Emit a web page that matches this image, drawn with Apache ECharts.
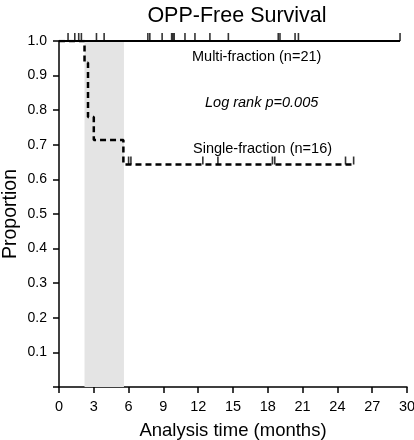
<!DOCTYPE html>
<html>
<head>
<meta charset="utf-8">
<script src="https://cdn.jsdelivr.net/npm/echarts@6.0.0/dist/echarts.min.js"></script>
<style>
html, body { margin: 0; padding: 0; background: #fff; }
#main { width: 414px; height: 440px; }
</style>
</head>
<body>
<div id="main"></div>
<script>
// Single-fraction KM steps (time in months, survival proportion)
const sfTimes = [0, 2.2, 2.5, 3.0, 5.55, 25.5];
const sfSurv = [1, 0.9375, 0.78, 0.714, 0.643, 0.643];
// censored times
const sfCensor = [6.0, 6.2, 12.4, 13.7, 18.4, 18.6, 24.7, 25.4];
const mfCensor = [0.78, 1.36, 1.7, 1.93, 3.23, 3.89, 7.66, 7.83, 8.89, 9.71, 9.82, 9.93,
  10.86, 11.72, 13.01, 14.6, 18.9, 19.05, 20.35, 20.64, 29.4];
const mfEnd = 29.4;
const shadeBand = [2.2, 5.6];
const xTicks = [0, 30, 3];

// survival value at a censor time for the single-fraction group
function sfAt(t) {
  let s = sfSurv[0];
  sfTimes.forEach((x, i) => { if (x <= t) s = sfSurv[i]; });
  return s;
}

const font = 'Liberation Sans, Arial, sans-serif';
const tick = { symbol: 'rect', symbolSize: [1.6, 8], symbolOffset: [0, -4] };

echarts.init(document.getElementById('main')).setOption({
  animation: false,
  textStyle: { fontFamily: font, color: '#000' },
  title: {
    text: 'OPP-Free Survival',
    left: 232, top: 0, textAlign: 'center',
    textStyle: { fontFamily: font, fontSize: 21.5, fontWeight: 'normal', color: '#000' }
  },
  grid: { left: 59, right: 7, top: 41, bottom: 53, containLabel: false, outerBoundsMode: 'none' },
  xAxis: {
    type: 'value', min: xTicks[0], max: xTicks[1], interval: xTicks[2],
    name: 'Analysis time (months)', nameLocation: 'middle', nameGap: 34,
    nameMoveOverlap: false,
    nameTextStyle: { fontSize: 18.5, color: '#000' },
    axisLine: { onZero: false, lineStyle: { color: '#000', width: 1.5 } },
    axisTick: { length: 6, lineStyle: { color: '#000', width: 1.5 } },
    axisLabel: { fontSize: 14.5, color: '#000', margin: 12 },
    splitLine: { show: false }
  },
  yAxis: {
    type: 'value', min: 0, max: 1, interval: 0.1,
    name: 'Proportion', nameLocation: 'middle', nameGap: 38, nameRotate: 90,
    nameMoveOverlap: false,
    nameTextStyle: { fontSize: 19.5, color: '#000' },
    axisLine: { show: true, lineStyle: { color: '#000', width: 1.5 } },
    axisTick: { show: true, length: 6, lineStyle: { color: '#000', width: 1.5 } },
    axisLabel: { fontSize: 14, color: '#000', margin: 12,
      formatter: v => v === 0 ? '' : v.toFixed(1) },
    splitLine: { show: false }
  },
  series: [
    {
      type: 'line', data: [], z: 1,
      markArea: {
        silent: true,
        itemStyle: { color: '#e4e4e4' },
        data: [[{ xAxis: shadeBand[0] }, { xAxis: shadeBand[1] }]]
      }
    },
    {
      name: 'Multi-fraction', type: 'line', z: 5,
      data: [[0, 1], [mfEnd, 1]],
      symbol: 'none',
      lineStyle: { color: '#000', width: 2 }
    },
    {
      name: 'Multi-fraction censored', type: 'scatter', z: 5,
      data: mfCensor.map(t => [t, 1]),
      ...tick,
      itemStyle: { color: '#000' }
    },
    {
      name: 'Single-fraction', type: 'line', z: 4, step: 'end',
      data: sfTimes.map((t, i) => [t, sfSurv[i]]),
      symbol: 'none',
      lineStyle: { color: '#000', width: 2.5, type: [6, 4] }
    },
    {
      name: 'Single-fraction censored', type: 'scatter', z: 4,
      data: sfCensor.map(t => [t, sfAt(t)]),
      ...tick,
      itemStyle: { color: '#000' }
    }
  ],
  graphic: [
    { type: 'text', left: 192, top: 49,
      style: { text: 'Multi-fraction (n=21)', font: '14.5px ' + font, fill: '#000' } },
    { type: 'text', left: 205, top: 95,
      style: { text: 'Log rank p=0.005', font: 'italic 14.5px ' + font, fill: '#000' } },
    { type: 'text', left: 193, top: 141,
      style: { text: 'Single-fraction (n=16)', font: '14.5px ' + font, fill: '#000' } }
  ]
});
</script>
</body>
</html>
